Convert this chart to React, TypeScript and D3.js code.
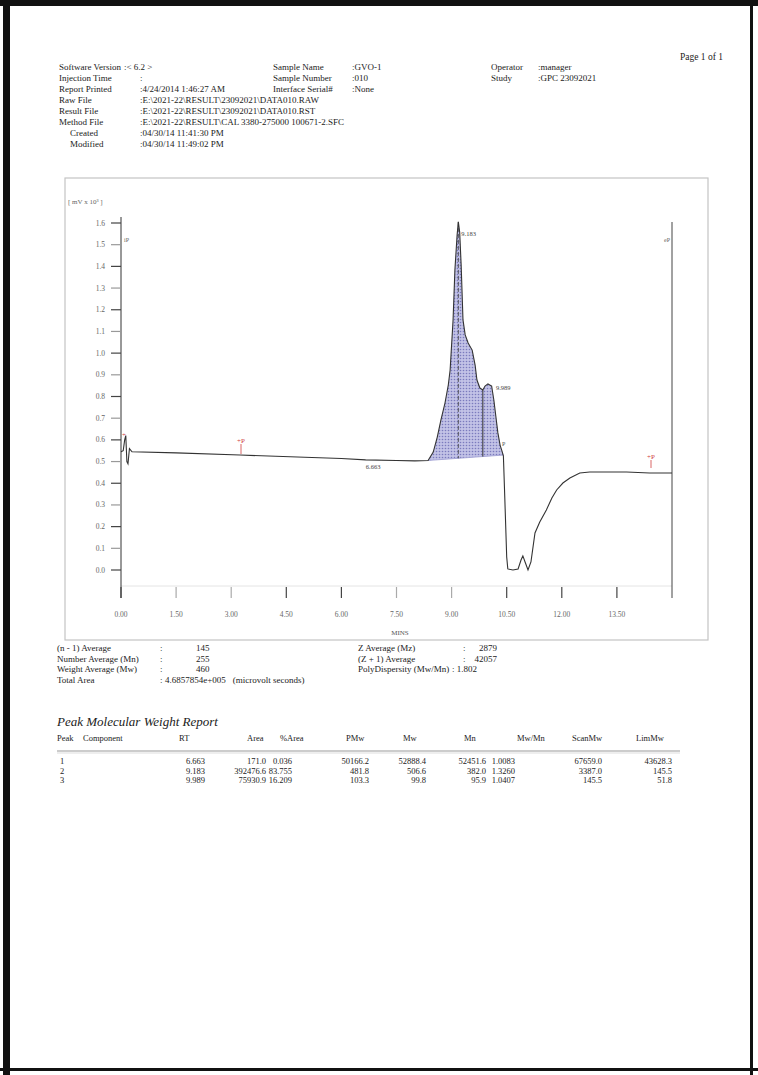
import React from 'react';
import * as d3 from 'd3';

// header block
const headerLabels = ['Software Version', 'Injection Time', 'Report Printed', 'Raw File', 'Result File', 'Method File'];
const headerValues = [
  ':< 6.2 >',
  ':',
  ':4/24/2014 1:46:27 AM',
  ':E:\\2021-22\\RESULT\\23092021\\DATA010.RAW',
  ':E:\\2021-22\\RESULT\\23092021\\DATA010.RST',
  ':E:\\2021-22\\RESULT\\CAL  3380-275000  100671-2.SFC',
];
const fileLabels = ['Created', 'Modified'];
const fileValues = [':04/30/14  11:41:30 PM', ':04/30/14  11:49:02 PM'];
const sampleLabels = ['Sample Name', 'Sample Number', 'Interface Serial#'];
const sampleValues = [':GVO-1', ':010', ':None'];
const operatorLabels = ['Operator', 'Study'];
const operatorValues = [':manager', ':GPC 23092021'];

// chromatogram
const retentionTime = [
  0.0, 0.06, 0.1, 0.13, 0.16, 0.19, 0.23, 0.3, 1.5, 3.24, 5.0, 6.0, 6.66, 7.5, 8.0, 8.36, 8.5, 8.61,
  8.71, 8.82, 8.91, 8.96, 9.04, 9.09, 9.15, 9.183, 9.22, 9.26, 9.31, 9.37, 9.45, 9.56, 9.64, 9.69,
  9.77, 9.85, 9.91, 9.989, 10.09, 10.15, 10.21, 10.26, 10.32, 10.37, 10.41, 10.45, 10.5, 10.53,
  10.67, 10.81, 10.89, 10.94, 11.0, 11.08, 11.16, 11.27, 11.4, 11.58, 11.73, 11.86, 12.03, 12.22,
  12.49, 12.76, 13.76, 14.39, 15.0,
];
const detectorSignal = [
  0.545, 0.55, 0.6, 0.62, 0.5, 0.49, 0.56, 0.545, 0.54, 0.53, 0.52, 0.514, 0.508, 0.505, 0.503,
  0.505, 0.544, 0.613, 0.692, 0.77, 0.853, 0.922, 1.153, 1.383, 1.545, 1.605, 1.558, 1.406, 1.153,
  1.084, 1.047, 1.014, 0.945, 0.876, 0.839, 0.83, 0.848, 0.858, 0.848, 0.784, 0.701, 0.632, 0.576,
  0.549, 0.526, 0.323, 0.06, 0.005, 0.0, 0.005, 0.046, 0.065, 0.037, 0.0, 0.037, 0.171, 0.221, 0.277,
  0.332, 0.369, 0.401, 0.424, 0.447, 0.452, 0.452, 0.447, 0.447,
];

const yTicks = [0.0, 0.1, 0.2, 0.3, 0.4, 0.5, 0.6, 0.7, 0.8, 0.9, 1.0, 1.1, 1.2, 1.3, 1.4, 1.5, 1.6];
const xTicks = [0.0, 1.5, 3.0, 4.5, 6.0, 7.5, 9.0, 10.5, 12.0, 13.5];

// integration: start/end of the shaded region and its baseline values
const fillStart = [8.36, 0.505];
const fillEnd = [10.41, 0.53];
const peakRT = [6.663, 9.183, 9.989];
const peakLabels = ['6.663', '9.183', '9.989'];
const valleyRT = 9.85;

// summary
const statsLeftLabels = ['(n - 1) Average', 'Number Average (Mn)', 'Weight Average (Mw)', 'Total Area'];
const statsLeftValues = ['145', '255', '460'];
const totalArea = '4.6857854e+005';
const statsRightLabels = ['Z Average (Mz)', '(Z + 1) Average', 'PolyDispersity (Mw/Mn)'];
const statsRightValues = ['2879', '42057', '1.802'];

// peak table
const tableHeaders = ['RT', 'Area', '%Area', 'PMw', 'Mw', 'Mn', 'Mw/Mn', 'ScanMw', 'LimMw'];
const peakNumbers = ['1', '2', '3'];
const rtCol = ['6.663', '9.183', '9.989'];
const areaCol = ['171.0', '392476.6', '75930.9'];
const pctAreaCol = ['0.036', '83.755', '16.209'];
const pmwCol = ['50166.2', '481.8', '103.3'];
const mwCol = ['52888.4', '506.6', '99.8'];
const mnCol = ['52451.6', '382.0', '95.9'];
const dispCol = ['1.0083', '1.3260', '1.0407'];
const scanMwCol = ['67659.0', '3387.0', '145.5'];
const limMwCol = ['43628.3', '145.5', '51.8'];

const serif = '"Liberation Serif", "Times New Roman", serif';

export default function App() {
  const x = d3.scaleLinear().domain([0, 15]).range([121, 672]);
  const y = d3.scaleLinear().domain([0, 1.6]).range([570, 223]);

  const pts: [number, number][] = retentionTime.map((t, i) => [t, detectorSignal[i]]);
  const line = d3.line<[number, number]>().x(d => x(d[0])).y(d => y(d[1]));

  const base = d3.scaleLinear().domain([fillStart[0], fillEnd[0]]).range([fillStart[1], fillEnd[1]]);
  const peakPts = pts.filter(d => d[0] >= fillStart[0] && d[0] <= fillEnd[0]);
  const area = d3
    .area<[number, number]>()
    .x(d => x(d[0]))
    .y0(d => y(base(d[0])))
    .y1(d => y(d[1]));

  const sig = d3.scaleLinear().domain(retentionTime).range(detectorSignal);

  const colHead = [179, 247, 280, 346, 403, 464, 517, 572, 636];
  const colRight = [205, 266, 292, 369, 426, 486, 515, 602, 672];
  const cols = [rtCol, areaCol, pctAreaCol, pmwCol, mwCol, mnCol, dispCol, scanMwCol, limMwCol];

  const hy = (i: number) => 70 + i * 11;
  const sy = (i: number) => 651 + i * 10.6;

  return (
    <div style={{ position: 'absolute', left: 0, top: 0 }}>
      <svg width={758} height={1075} style={{ display: 'block', background: '#fff' }} fontFamily={serif}>
        <defs>
          <pattern id="dots" width="3" height="3" patternUnits="userSpaceOnUse">
            <rect width="3" height="3" fill="#c2c2e6" />
            <circle cx="1.5" cy="1.5" r="0.8" fill="#7b7bbd" />
          </pattern>
        </defs>

        {/* page border */}
        <rect x={0} y={0} width={758} height={6} fill="#111" />
        <rect x={3} y={0} width={7} height={1075} fill="#111" />
        <rect x={750} y={0} width={3} height={1075} fill="#111" />
        <rect x={0} y={1068} width={758} height={3} fill="#111" />

        {/* header */}
        <g fontSize={9} fill="#222" style={{ whiteSpace: 'pre' }}>
          <text x={680} y={60} fontSize={9.5}>Page 1 of 1</text>
          {headerLabels.map((l, i) => (
            <g key={l}>
              <text x={59} y={hy(i)}>{l}</text>
              <text x={i === 0 ? 124 : 140} y={hy(i)}>{headerValues[i]}</text>
            </g>
          ))}
          {fileLabels.map((l, i) => (
            <g key={l}>
              <text x={70} y={hy(i + 6)}>{l}</text>
              <text x={140} y={hy(i + 6)}>{fileValues[i]}</text>
            </g>
          ))}
          {sampleLabels.map((l, i) => (
            <g key={l}>
              <text x={273} y={hy(i)}>{l}</text>
              <text x={352} y={hy(i)}>{sampleValues[i]}</text>
            </g>
          ))}
          {operatorLabels.map((l, i) => (
            <g key={l}>
              <text x={491} y={hy(i)}>{l}</text>
              <text x={538} y={hy(i)}>{operatorValues[i]}</text>
            </g>
          ))}
        </g>

        {/* chart frame */}
        <rect x={65} y={178} width={643} height={462} fill="none" stroke="#c4c4c4" strokeWidth={1.2} />
        <text x={68} y={204} fontSize={7} fill="#666">[ mV x 10³ ]</text>
        <line x1={121} x2={672} y1={586} y2={586} stroke="#e4e4e4" />

        {/* y axis */}
        <line x1={121} x2={121} y1={217} y2={598} stroke="#333" />
        {yTicks.map((v, i) => (
          <g key={v}>
            <line x1={111} x2={121} y1={y(v)} y2={y(v)} stroke={i % 2 === 0 ? '#444' : '#999'} strokeWidth={1.2} />
            <text x={105} y={y(v) + 2.5} textAnchor="end" fontSize={7.5} fill="#666">
              {d3.format('.1f')(v)}
            </text>
          </g>
        ))}

        {/* right edge */}
        <line x1={672} x2={672} y1={222} y2={598} stroke="#444" />

        {/* x axis */}
        {xTicks.map((t, i) => (
          <g key={t}>
            <line x1={x(t)} x2={x(t)} y1={587} y2={598} stroke={[0, 3, 4, 7, 8, 9].includes(i) ? '#444' : '#aaa'} strokeWidth={1.2} />
            <text x={x(t)} y={617} textAnchor="middle" fontSize={7.5} fill="#666">
              {d3.format('.2f')(t)}
            </text>
          </g>
        ))}
        <text x={400} y={635} textAnchor="middle" fontSize={7} fill="#555">MINS</text>

        {/* integrated area */}
        <path d={area(peakPts) || ''} fill="url(#dots)" />
        <line x1={x(fillStart[0])} x2={x(fillEnd[0])} y1={y(fillStart[1])} y2={y(fillEnd[1])} stroke="#9a9ad0" strokeWidth={0.8} />
        <line x1={x(peakRT[1])} x2={x(peakRT[1])} y1={y(sig(peakRT[1]))} y2={y(base(peakRT[1]))} stroke="#333" strokeDasharray="4,2" strokeWidth={0.8} />
        <line x1={x(valleyRT)} x2={x(valleyRT)} y1={y(sig(valleyRT))} y2={y(base(valleyRT))} stroke="#333" strokeWidth={1} />

        {/* trace */}
        <path d={line(pts) || ''} fill="none" stroke="#333" strokeWidth={1.1} />

        {/* peak labels */}
        <text x={x(peakRT[0])} y={y(sig(peakRT[0])) + 9} fontSize={6.5} fill="#444">{peakLabels[0]}</text>
        <text x={x(peakRT[1]) + 3} y={y(sig(peakRT[1])) + 14} fontSize={6.5} fill="#444">{peakLabels[1]}</text>
        <text x={x(peakRT[2]) + 8} y={y(sig(peakRT[2])) + 6} fontSize={6.5} fill="#444">{peakLabels[2]}</text>

        {/* event markers */}
        <text x={124} y={242} fontSize={6} fill="#666">iP</text>
        <text x={664} y={242} fontSize={6} fill="#666">eP</text>
        <g fill="#d04040" fontSize={7}>
          <text x={122} y={437}>+</text>
          <text x={237} y={443}>+P</text>
          <text x={647} y={459}>+P</text>
        </g>
        <line x1={241} x2={241} y1={444} y2={454} stroke="#d04040" strokeWidth={0.8} />
        <line x1={651} x2={651} y1={460} y2={468} stroke="#d04040" strokeWidth={0.8} />
        <text x={502} y={446} fontSize={6} fill="#555">P</text>

        {/* summary */}
        <g fontSize={9} fill="#222">
          {statsLeftLabels.map((l, i) => (
            <g key={l}>
              <text x={57} y={sy(i)}>{l}</text>
              <text x={160} y={sy(i)}>:</text>
              {i < 3 ? (
                <text x={196} y={sy(i)}>{statsLeftValues[i]}</text>
              ) : (
                <text x={165} y={sy(i)}>
                  {totalArea}
                  <tspan dx={7}>(microvolt seconds)</tspan>
                </text>
              )}
            </g>
          ))}
          {statsRightLabels.map((l, i) => (
            <g key={l}>
              <text x={358} y={sy(i)}>{l}</text>
              {i < 2 ? (
                <>
                  <text x={463} y={sy(i)}>:</text>
                  <text x={497} y={sy(i)} textAnchor="end">{statsRightValues[i]}</text>
                </>
              ) : (
                <text x={452} y={sy(i)}>: {statsRightValues[i]}</text>
              )}
            </g>
          ))}
        </g>

        {/* table */}
        <text x={57} y={726} fontSize={13} fontStyle="italic" fill="#222">Peak Molecular Weight Report</text>
        <g fontSize={8.5} fill="#222">
          <text x={57} y={741}>Peak</text>
          <text x={83} y={741}>Component</text>
          {tableHeaders.map((h, i) => (
            <text key={h} x={colHead[i]} y={741}>{h}</text>
          ))}
          <line x1={57} x2={680} y1={751} y2={751} stroke="#bbb" strokeWidth={1.5} />
          <line x1={57} x2={680} y1={753} y2={753} stroke="#ddd" strokeWidth={1} />
          {peakNumbers.map((p, r) => (
            <g key={p}>
              <text x={60} y={764 + r * 9.5}>{p}</text>
              {cols.map((c, ci) => (
                <text key={ci} x={colRight[ci]} y={764 + r * 9.5} textAnchor="end">{c[r]}</text>
              ))}
            </g>
          ))}
        </g>
      </svg>
    </div>
  );
}
